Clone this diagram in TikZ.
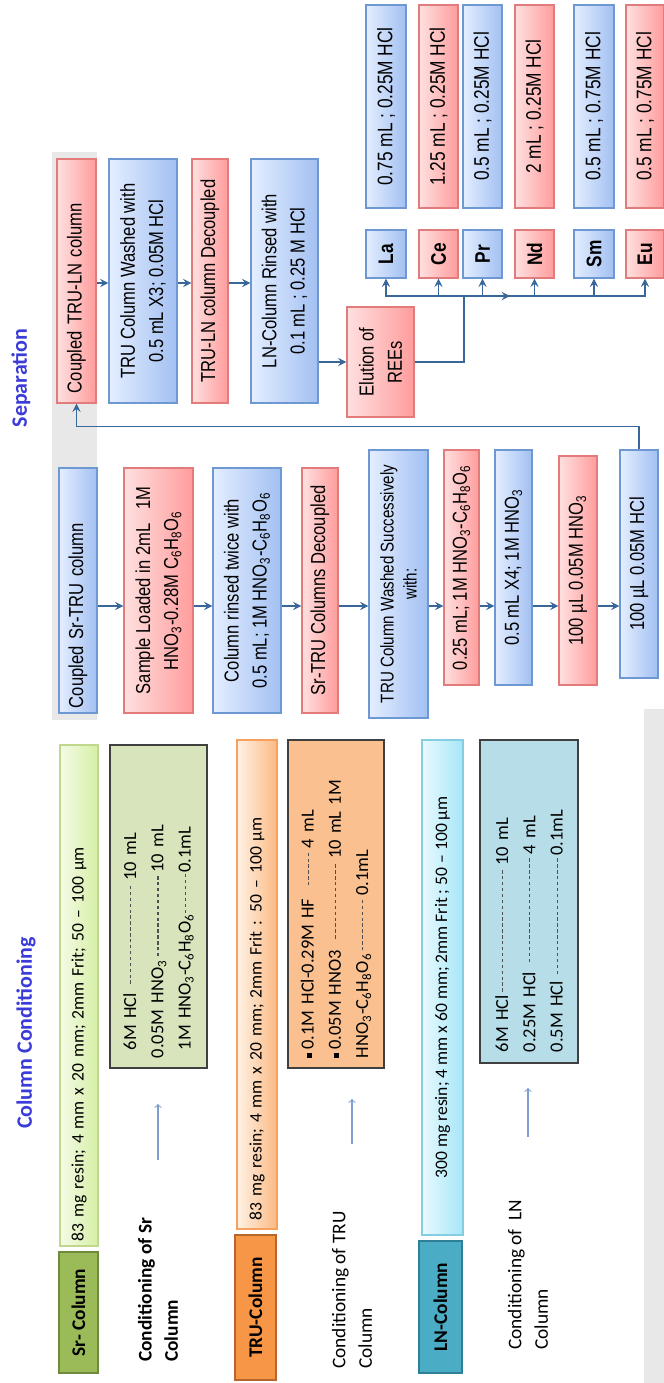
\documentclass[tikz,border=0pt]{standalone}
\usepackage{fontspec}
\setmainfont{Carlito}
\newfontfamily\narrowfont[FakeStretch=0.82]{Liberation Sans}
\usepackage{tikz}
\usetikzlibrary{positioning, arrows, shapes}

\definecolor{pinkL}{HTML}{FFE0E0}
\definecolor{pinkD}{HTML}{FF9C9C}
\definecolor{pinkB}{HTML}{E27C7C}
\definecolor{blueL}{HTML}{E4EEFF}
\definecolor{blueD}{HTML}{A2C0F2}
\definecolor{blueB}{HTML}{6E98D2}
\definecolor{flow}{HTML}{3A6799}
\definecolor{thinflow}{HTML}{7C9ED0}
\definecolor{titleblue}{HTML}{3B3BD9}
\definecolor{panelgray}{HTML}{E8E8E8}
\definecolor{recipeEdge}{HTML}{404040}
\definecolor{leadgray}{HTML}{505050}
\definecolor{srDark}{HTML}{9BBB59}
\definecolor{srDarkB}{HTML}{6F8A3A}
\definecolor{srLightA}{HTML}{F4FBE6}
\definecolor{srLightB}{HTML}{D6EFA6}
\definecolor{srResinB}{HTML}{BFD88E}
\definecolor{srFill}{HTML}{D8E4BC}
\definecolor{truDark}{HTML}{F79646}
\definecolor{truDarkB}{HTML}{B8672A}
\definecolor{truLightA}{HTML}{FFF1E4}
\definecolor{truLightB}{HTML}{FBBA84}
\definecolor{truResinB}{HTML}{F6A25E}
\definecolor{truFill}{HTML}{FAC090}
\definecolor{lnDark}{HTML}{4BACC6}
\definecolor{lnDarkB}{HTML}{2F7F96}
\definecolor{lnLightA}{HTML}{E8FAFF}
\definecolor{lnLightB}{HTML}{A6E6F8}
\definecolor{lnResinB}{HTML}{86CDE2}
\definecolor{lnFill}{HTML}{B7DEE8}

\newcommand{\HNOt}{HNO\textsubscript{3}}
\newcommand{\ascac}{C\textsubscript{6}H\textsubscript{8}O\textsubscript{6}}
\newcommand{\dashlead}{\leaders\hbox to 0.32em{\hss\textcolor{leadgray}{\rule[0.55ex]{0.18em}{0.06em}}\hss}\hfill}
\newcommand{\sqbul}{\rule[0.2ex]{0.6ex}{0.6ex}\,}

\tikzstyle{stepbase} = [rectangle, rotate=90, align=center, inner sep=2pt, line width=0.6pt, font=\narrowfont\fontsize{11.5}{16}\selectfont]
\tikzstyle{redstep} = [stepbase, draw=pinkB, left color=pinkL, right color=pinkD]
\tikzstyle{bluestep} = [stepbase, draw=blueB, left color=blueL, right color=blueD]
\tikzstyle{colhead} = [rectangle, rotate=90, line width=0.8pt, font=\fontsize{11}{13}\selectfont\bfseries]
\tikzstyle{resin} = [rectangle, rotate=90, line width=0.6pt, inner ysep=2pt, font=\fontsize{10}{13}\selectfont]
\tikzstyle{recipe} = [rectangle, rotate=90, draw=recipeEdge, line width=1pt, align=left, font=\fontsize{10.5}{15.5}\selectfont]
\tikzstyle{condlabel} = [rotate=90, align=left, inner sep=0pt, anchor=west, font=\fontsize{11}{15}\selectfont]
\tikzstyle{title} = [rotate=90, text=titleblue, font=\fontsize{12.5}{15}\selectfont\bfseries]
\tikzstyle{arrow} = [line width=1.1pt, ->, >=stealth, draw=flow]
\tikzstyle{link} = [line width=1.1pt, draw=flow]
\tikzstyle{condarrow} = [line width=0.6pt, ->, >=to, draw=thinflow]
\tikzset{dims/.style 2 args={minimum width=#1*0.2mm, minimum height=#2*0.2mm}}

\begin{document}
\begin{tikzpicture}[x=0.2mm, y=-0.2mm]
        \useasboundingbox (0,0) rectangle (664,1383);
        \fill [panelgray] (52,152) rectangle (97,720);
        \fill [panelgray] (644,709) rectangle (664,1383);

        \node (condTitle) [title] at (26,1033) {Column Conditioning};
        \node (sepTitle) [title] at (21,378) {Separation};

        % column conditioning
        \node (srCol) [colhead, fill=srDark, draw=srDarkB, dims={121}{39}] at (78.5,1312.5) {Sr- Column};
        \node (srResin) [resin, left color=srLightA, right color=srLightB, draw=srResinB, dims={501}{38}, inner xsep=1mm, text width=98.2mm, align=left] at (79,995.5) {83 mg resin; 4 mm x 20 mm; 2mm Frit; 50 – 100 µm};
        \node (srRecipe) [recipe, fill=srFill, dims={323}{97}, inner xsep=2mm, text width=60.6mm] at (158.5,906.5) {\hspace*{1.6mm}\makebox[43.4mm]{6M HCl \dashlead10 mL}\\ \makebox[46.6mm]{0.05M \HNOt\dashlead10 mL}\\ \hspace*{1.6mm}\makebox[44.6mm]{1M \HNOt-\ascac\dashlead0.1mL}};
        \node (condSr) [condlabel, font=\fontsize{11}{15}\selectfont\bfseries] at (158,1362) {Conditioning of Sr\\Column};

        \node (truCol) [colhead, fill=truDark, draw=truDarkB, dims={145}{41}] at (255.5,1307.5) {TRU-Column};
        \node (truResin) [resin, left color=truLightA, right color=truLightB, draw=truResinB, dims={489}{40}, inner xsep=1.8mm, text width=94.2mm, align=left] at (257,984.5) {83 mg resin; 4 mm x 20 mm; 2mm Frit : 50 – 100 µm};
        \node (truRecipe) [recipe, fill=truFill, dims={328}{96}, inner xsep=2mm, text width=61.6mm] at (336,904) {\makebox[49.6mm]{\sqbul0.1M HCl-0.29M HF \dashlead4 mL}\\ \makebox[55.6mm]{\sqbul0.05M HNO3 \dashlead10 mL 1M}\\ \makebox[41.6mm]{\HNOt-\ascac\dashlead0.1mL}};
        \node (condTRU) [condlabel] at (352,1369) {Conditioning of TRU\\Column};

        \node (lnCol) [colhead, fill=lnDark, draw=lnDarkB, dims={132}{43}] at (440.5,1307) {LN-Column};
        \node (lnResin) [resin, left color=lnLightA, right color=lnLightB, draw=lnResinB, dims={495}{41}] at (442.5,987.5) {300 mg resin; 4 mm x 60 mm; 2mm Frit ; 50 – 100 µm};
        \node (lnRecipe) [recipe, fill=lnFill, dims={323}{98}, inner xsep=2.2mm, text width=60.2mm] at (529,901.5) {\makebox[46.8mm]{6M HCl\dashlead10 mL}\\ \makebox[47.2mm]{0.25M HCl \dashlead4 mL}\\ \makebox[48.4mm]{0.5M HCl\dashlead0.1mL}};
        \node (condLN) [condlabel] at (528,1350) {Conditioning of\ \ LN\\Column};

        \draw [condarrow, shorten <=11.6mm, shorten >=7mm] (condSr.east) -- (condSr.east |- srRecipe.west);
        \draw [condarrow, shorten <=13.4mm, shorten >=6mm] (condTRU.east) -- (condTRU.east |- truRecipe.west);
        \draw [condarrow, shorten <=12.4mm, shorten >=4.8mm] (condLN.east) -- (condLN.east |- lnRecipe.west);

        % separation, Sr-TRU row
        \node (coupledSrTRU) [bluestep, dims={245}{38}, inner xsep=1mm, text width=47mm, align=left] at (78,590.5) {Coupled Sr-TRU column};
        \node (sampleLoaded) [redstep, dims={245}{69}] at (158.5,590.5) {Sample Loaded in 2mL\ \ \ 1M\\ \HNOt-0.28M \ascac};
        \node (rinsedTwice) [bluestep, dims={245}{68}] at (247,590.5) {Column rinsed twice with\\ 0.5 mL; 1M \HNOt-\ascac};
        \node (srtruDecoupled) [redstep, dims={245}{36}] at (320,590.5) {Sr-TRU Columns Decoupled};
        \node (washedSucc) [bluestep, dims={268}{59}, font=\narrowfont\fontsize{10.5}{13}\selectfont] at (398.5,584) {TRU Column Washed Successively\\ with:};
        \node (washA) [redstep, dims={235}{35}] at (461.5,567.5) {0.25 mL; 1M \HNOt-\ascac};
        \node (washB) [bluestep, dims={235}{37}] at (513.5,567.5) {0.5 mL X4; 1M \HNOt};
        \node (washC) [redstep, dims={229}{38}] at (578,570.5) {100 µL 0.05M \HNOt};
        \node (washD) [bluestep, dims={228}{38}] at (639,564) {100 µL 0.05M HCl};

        % separation, TRU-LN row
        \node (coupledTRULN) [redstep, dims={244}{39}, inner xsep=1mm, text width=46.8mm, align=left] at (76.5,281) {\hspace*{1mm}Coupled TRU-LN column};
        \node (washedThrice) [bluestep, dims={244}{68}] at (143,281) {TRU Column Washed with\\ 0.5 mL X3; 0.05M HCl};
        \node (trulnDecoupled) [redstep, dims={244}{36}] at (210,281) {TRU-LN column Decoupled};
        \node (rinsedLN) [bluestep, dims={244}{67}] at (284.5,281) {LN-Column Rinsed with\\ 0.1 mL ; 0.25 M HCl};
        \node (elution) [redstep, dims={110}{67}] at (380.5,362) {Elution of\\ REEs};

        % rare earth fractions
        \node (la) [bluestep, dims={48}{40}, font=\narrowfont\fontsize{12}{14}\selectfont\bfseries] at (386,254) {La};
        \node (ce) [redstep, dims={48}{39}, font=\narrowfont\fontsize{12}{14}\selectfont\bfseries] at (438.5,254) {Ce};
        \node (pr) [bluestep, dims={48}{39}, font=\narrowfont\fontsize{12}{14}\selectfont\bfseries] at (482.5,254) {Pr};
        \node (nd) [redstep, dims={48}{39}, font=\narrowfont\fontsize{12}{14}\selectfont\bfseries] at (534.5,254) {Nd};
        \node (sm) [bluestep, dims={48}{40}, font=\narrowfont\fontsize{12}{14}\selectfont\bfseries] at (594,254) {Sm};
        \node (eu) [redstep, dims={48}{38}, font=\narrowfont\fontsize{12}{14}\selectfont\bfseries] at (645,254) {Eu};

        \node (laVol) [bluestep, dims={203}{40}, font=\narrowfont\fontsize{12}{14}\selectfont] at (386,106.5) {0.75 mL ; 0.25M HCl};
        \node (ceVol) [redstep, dims={203}{39}, font=\narrowfont\fontsize{12}{14}\selectfont] at (438.5,106.5) {1.25 mL ; 0.25M HCl};
        \node (prVol) [bluestep, dims={203}{39}, font=\narrowfont\fontsize{12}{14}\selectfont] at (482.5,106.5) {0.5 mL ; 0.25M HCl};
        \node (ndVol) [redstep, dims={203}{39}, font=\narrowfont\fontsize{12}{14}\selectfont] at (534.5,106.5) {2 mL ; 0.25M HCl};
        \node (smVol) [bluestep, dims={203}{40}, font=\narrowfont\fontsize{12}{14}\selectfont] at (594,106.5) {0.5 mL ; 0.75M HCl};
        \node (euVol) [redstep, dims={203}{38}, font=\narrowfont\fontsize{12}{14}\selectfont] at (645,106.5) {0.5 mL ; 0.75M HCl};

        % connectors
        \coordinate (rowA) at (0,606);
        \coordinate (rowB) at (0,283);
        \foreach \a/\b in {coupledSrTRU/sampleLoaded, sampleLoaded/rinsedTwice, rinsedTwice/srtruDecoupled, srtruDecoupled/washedSucc, washedSucc/washA, washA/washB, washB/washC, washC/washD}
            \draw [arrow] (\a.south |- rowA) -- (\b.north |- rowA);
        \foreach \a/\b in {coupledTRULN/washedThrice, washedThrice/trulnDecoupled, trulnDecoupled/rinsedLN}
            \draw [arrow] (\a.south |- rowB) -- (\b.north |- rowB);
        \draw [arrow] (washD.east) -- ++(0,-23) -| (coupledTRULN.west);
        \draw [arrow] (rinsedLN.south |- elution.north) -- (elution.north);

        \coordinate (bus) at (464,296);
        \coordinate (busmid) at (510,296);
        \draw [link] (elution.south) -| (bus);
        \foreach \el in {la,ce,pr,nd,sm,eu}
            \draw [arrow] (bus) -| (\el.west);
        \draw [arrow] (bus) -- (busmid);
\end{tikzpicture}
\end{document}
